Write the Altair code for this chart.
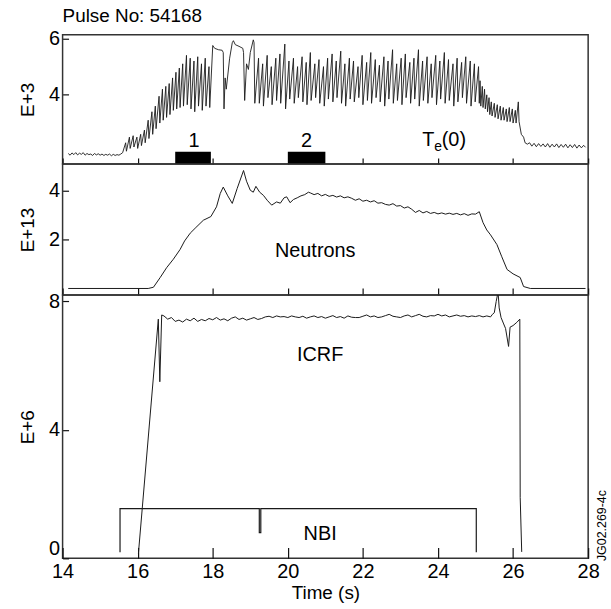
import altair as alt
import pandas as pd

FONT = "Liberation Sans"

# ---------------- Te(0) (E+3) ----------------
te_t = [14.15, 14.20, 14.25, 14.30, 14.35, 14.40, 14.45, 14.50, 14.55, 14.60,
        14.65, 14.70, 14.75, 14.80, 14.85, 14.90, 14.95, 15.00, 15.05, 15.10,
        15.15, 15.20, 15.25, 15.30, 15.35, 15.40, 15.45, 15.50, 15.55,
        15.60, 15.68, 15.70, 15.78, 15.80, 15.88, 15.90, 15.98, 16.00, 16.08,
        16.10, 16.18, 16.20, 16.28, 16.30, 16.38, 16.40, 16.47, 16.49,
        16.57, 16.59, 16.66, 16.68, 16.75, 16.77, 16.84, 16.86,
        16.93, 16.95, 17.02, 17.04, 17.11, 17.13, 17.20, 17.22,
        17.30, 17.32, 17.40, 17.42, 17.50, 17.52, 17.60, 17.62, 17.70, 17.72,
        17.80, 17.82, 17.90, 17.92,
        18.00, 18.05, 18.15, 18.25, 18.28, 18.30, 18.33, 18.36, 18.45, 18.52,
        18.55, 18.60, 18.70, 18.80, 18.82, 18.85, 18.90, 18.95, 19.00, 19.08,
        19.10, 19.12,
        19.22, 19.24, 19.33, 19.35, 19.45, 19.47, 19.56, 19.58, 19.68, 19.70,
        19.79, 19.81, 19.92, 19.94, 20.03, 20.05, 20.15, 20.17, 20.26, 20.28,
        20.38, 20.40, 20.49, 20.51, 20.60, 20.62, 20.72, 20.74, 20.83, 20.85,
        20.95, 20.97, 21.06, 21.08, 21.18, 21.20, 21.29, 21.31, 21.41, 21.43,
        21.52, 21.54, 21.64, 21.66, 21.75, 21.77, 21.87, 21.89, 21.98, 22.00,
        22.10, 22.12, 22.21, 22.23, 22.33, 22.35, 22.44, 22.46, 22.56, 22.58,
        22.67, 22.69, 22.79, 22.81, 22.90, 22.92, 23.02, 23.04, 23.13, 23.15,
        23.25, 23.27, 23.36, 23.38, 23.48, 23.50, 23.59, 23.61, 23.71, 23.73,
        23.82, 23.84, 23.94, 23.96, 24.05, 24.07, 24.17, 24.19, 24.28, 24.30,
        24.40, 24.42, 24.51, 24.53, 24.63, 24.65, 24.74, 24.76, 24.86, 24.88,
        24.97, 24.99, 25.08, 25.10,
        25.12, 25.14, 25.18, 25.20, 25.24, 25.26, 25.30, 25.32, 25.36, 25.38,
        25.42, 25.44, 25.50, 25.52, 25.58, 25.60, 25.66, 25.68, 25.74, 25.76,
        25.82, 25.84, 25.90, 25.92, 25.98, 26.00, 26.06, 26.08, 26.14, 26.16,
        26.22, 26.28, 26.32, 26.38,
        26.44, 26.50, 26.56, 26.62, 26.68, 26.74, 26.80, 26.86, 26.92, 26.98,
        27.04, 27.10, 27.16, 27.22, 27.28, 27.34, 27.40, 27.46, 27.52, 27.58,
        27.64, 27.70, 27.76, 27.82, 27.88, 27.93]
te_v = [1.92, 1.86, 1.94, 1.88, 1.95, 1.87, 1.93, 1.89, 1.95, 1.86,
        1.92, 1.88, 1.90, 1.85, 1.92, 1.87, 1.91, 1.86, 1.90, 1.85,
        1.89, 1.86, 1.90, 1.84, 1.89, 1.85, 1.88, 1.86, 1.90,
        1.95, 2.30, 2.00, 2.50, 2.10, 2.55, 2.15, 2.50, 2.10, 2.60,
        2.20, 2.75, 2.30, 3.10, 2.45, 3.40, 2.60, 3.60, 2.80,
        3.95, 3.00, 4.20, 3.10, 4.30, 3.20, 4.40, 3.30,
        4.60, 3.45, 4.80, 3.50, 4.95, 3.55, 5.10, 3.60,
        5.40, 3.65, 5.30, 3.50, 5.20, 3.40, 5.35, 3.60, 5.10, 3.45,
        5.30, 3.60, 5.00, 3.55,
        5.75, 5.65, 5.60, 5.58, 5.50, 3.50, 4.60, 4.20, 5.30, 5.85,
        5.92, 5.78, 5.72, 5.65, 5.50, 3.80, 5.10, 4.90, 5.50, 5.95,
        5.85, 3.70,
        5.30, 3.70, 5.10, 3.60, 5.40, 3.90, 5.00, 3.65, 5.30, 3.80,
        5.45, 3.70, 5.80, 3.50, 5.20, 3.85, 5.30, 3.70, 5.00, 3.90,
        5.35, 3.75, 5.15, 3.65, 5.50, 3.80, 5.10, 3.90, 5.25, 3.70,
        5.00, 3.60, 5.30, 3.85, 5.45, 3.75, 5.20, 3.90, 5.55, 3.70,
        5.10, 3.60, 5.30, 3.85, 5.20, 3.75, 5.00, 3.90, 5.40, 3.65,
        5.15, 3.80, 5.50, 3.70, 5.25, 3.90, 5.05, 3.75, 5.35, 3.60,
        5.20, 3.85, 5.60, 3.70, 5.10, 3.80, 5.30, 3.65, 5.45, 3.90,
        5.15, 3.70, 5.30, 3.85, 5.60, 3.60, 5.20, 3.80, 5.35, 3.70,
        5.10, 3.90, 5.40, 3.65, 5.20, 3.85, 5.50, 3.70, 5.25, 3.80,
        5.10, 3.60, 5.30, 3.75, 5.15, 3.90, 5.35, 3.70, 5.20, 3.60,
        5.10, 3.75, 5.00, 3.70,
        4.50, 3.60, 4.30, 3.55, 4.20, 3.50, 4.00, 3.40, 3.90, 3.30,
        3.75, 3.25, 3.70, 3.20, 3.65, 3.15, 3.60, 3.10, 3.55, 3.10,
        3.50, 3.05, 3.55, 3.05, 3.50, 3.00, 3.45, 3.00, 3.75, 3.05,
        2.60, 2.50, 2.30, 2.25,
        2.30, 2.18, 2.28, 2.16, 2.27, 2.17, 2.26, 2.15, 2.27, 2.14,
        2.25, 2.15, 2.26, 2.13, 2.24, 2.14, 2.25, 2.12, 2.23, 2.13,
        2.24, 2.11, 2.22, 2.12, 2.21, 2.14]

# ---------------- Neutrons (E+13) ----------------
n_t = [14.15, 16.28, 16.42, 16.60, 16.77, 16.95, 17.13, 17.25, 17.40, 17.55,
       17.75, 17.95, 18.10, 18.20, 18.28, 18.40, 18.52, 18.65, 18.82, 18.90,
       19.00, 19.08, 19.15, 19.25, 19.35, 19.45, 19.57, 19.70, 19.80, 19.90,
       19.97, 20.06, 20.15, 20.25, 20.35, 20.45, 20.55,
       20.60, 20.70, 20.80, 20.90, 21.00, 21.10, 21.20, 21.30, 21.40, 21.50,
       21.60, 21.70, 21.80, 21.90, 22.00, 22.10, 22.20, 22.30, 22.40, 22.50,
       22.60, 22.70, 22.80, 22.90, 23.00, 23.10, 23.20, 23.30, 23.40, 23.50,
       23.60, 23.70, 23.80, 23.90, 24.00, 24.10, 24.20, 24.30, 24.40, 24.50,
       24.60, 24.70, 24.80, 24.90, 25.00, 25.10,
       25.20, 25.30, 25.40, 25.57, 25.70, 25.84, 26.00, 26.19, 26.28, 26.46, 27.93]
n_v = [0.00, 0.00, 0.05, 0.45, 0.85, 1.20, 1.60, 1.95, 2.27, 2.50,
       2.80, 2.95, 3.35, 3.90, 4.16, 3.80, 3.49, 4.10, 4.84, 4.40,
       4.03, 3.95, 4.19, 3.95, 3.82, 3.62, 3.42, 3.55, 3.50, 3.72,
       3.76, 3.52, 3.65, 3.72, 3.80, 3.85, 3.95,
       3.92, 3.85, 3.90, 3.80, 3.86, 3.78, 3.82, 3.75, 3.80, 3.72,
       3.76, 3.70, 3.62, 3.68, 3.58, 3.62, 3.55, 3.60, 3.50, 3.52,
       3.45, 3.42, 3.48, 3.38, 3.40, 3.30, 3.35, 3.25, 3.12, 3.20,
       3.10, 3.16, 3.08, 3.12, 3.06, 3.10, 3.05, 3.09, 3.04, 3.08,
       3.02, 3.07, 3.00, 3.06, 3.05, 3.15,
       2.70, 2.40, 2.20, 1.80, 1.30, 0.78, 0.60, 0.45, 0.08, 0.00, 0.00]

# ---------------- ICRF (E+6) ----------------
ic_t = [16.02, 16.55, 16.59, 16.64, 16.70, 16.80, 16.90, 17.00, 17.10, 17.20,
        17.30, 17.40, 17.50, 17.60, 17.70, 17.80, 17.90, 18.00, 18.10, 18.20,
        18.30, 18.40, 18.50, 18.60, 18.70, 18.80, 18.90, 19.00, 19.10, 19.20,
        19.30, 19.40, 19.50, 19.60, 19.70, 19.80, 19.90, 20.00, 20.10, 20.20,
        20.30, 20.40, 20.50, 20.60, 20.70, 20.80, 20.90, 21.00, 21.10, 21.20,
        21.30, 21.40, 21.50, 21.60, 21.70, 21.80, 21.90, 22.00, 22.10, 22.20,
        22.30, 22.40, 22.50, 22.60, 22.70, 22.80, 22.90, 23.00, 23.10, 23.20,
        23.30, 23.40, 23.50, 23.60, 23.70, 23.80, 23.90, 24.00, 24.10, 24.20,
        24.30, 24.40, 24.50, 24.60, 24.70, 24.80, 24.90, 25.00, 25.10, 25.20,
        25.30, 25.40, 25.45, 25.50, 25.55, 25.60, 25.63, 25.68, 25.75, 25.80,
        25.88, 25.92, 26.00, 26.10, 26.18, 26.19, 26.23]
ic_v = [0.15, 7.45, 5.50, 7.58, 7.55, 7.45, 7.50, 7.38, 7.42, 7.36,
        7.45, 7.40, 7.48, 7.38, 7.44, 7.40, 7.47, 7.43, 7.50, 7.42,
        7.46, 7.40, 7.48, 7.52, 7.44, 7.48, 7.42, 7.46, 7.50, 7.44,
        7.47, 7.52, 7.54, 7.50, 7.55, 7.52, 7.53, 7.50, 7.55, 7.52,
        7.50, 7.54, 7.48, 7.52, 7.55, 7.50, 7.53, 7.48, 7.52, 7.56,
        7.50, 7.53, 7.48, 7.55, 7.51, 7.50, 7.50, 7.54, 7.58, 7.52,
        7.55, 7.50, 7.52, 7.56, 7.60, 7.54, 7.52, 7.50, 7.55, 7.58,
        7.52, 7.56, 7.60, 7.54, 7.52, 7.56, 7.55, 7.60, 7.55, 7.58,
        7.52, 7.55, 7.58, 7.54, 7.56, 7.52, 7.55, 7.53, 7.56, 7.52,
        7.55, 7.52, 7.60, 7.65, 8.00, 8.30, 7.80, 7.50, 7.30, 7.16,
        6.60, 7.20, 7.25, 7.35, 7.45, 1.90, 0.20]

# ---------------- NBI (E+6) ----------------
nbi_t = [15.53, 15.53, 19.24, 19.24, 19.28, 19.28, 25.02, 25.02]
nbi_v = [0.19, 1.55, 1.55, 0.80, 0.80, 1.55, 1.55, 0.19]

# sawtooth analysis windows
win_label = ["1", "2"]
win_start = [17.0, 20.0]
win_end = [17.95, 21.0]

x_ticks = [14, 16, 18, 20, 22, 24, 26, 28]

W = 529
LINE = "#1a1a1a"

te_df = pd.DataFrame({"t": te_t, "v": te_v, "i": range(len(te_t))})
n_df = pd.DataFrame({"t": n_t, "v": n_v, "i": range(len(n_t))})
ic_df = pd.DataFrame({"t": ic_t, "v": ic_v, "i": range(len(ic_t))})
nbi_df = pd.DataFrame({"t": nbi_t, "v": nbi_v, "i": range(len(nbi_t))})
win_df = pd.DataFrame({"label": win_label, "t0": win_start, "t1": win_end,
                       "lo": [1.55, 1.55], "hi": [1.98, 1.98],
                       "tm": [17.5, 20.5], "ty": [2.36, 2.36]})


def x_enc(field, show_labels, tick):
    return alt.X(
        field, type="quantitative",
        scale=alt.Scale(domain=[14, 28], nice=False, zero=False),
        axis=alt.Axis(values=x_ticks, labels=show_labels, domain=False,
                      title="Time (s)" if show_labels else None,
                      tickSize={"expr": str(-tick)}, tickColor="#111",
                      tickWidth=1.2, grid=False, labelPadding=tick + 3,
                      labelFontSize=20, titleFontSize=19, titlePadding=2,
                      labelFlush=False),
    )


def y_enc(field, domain, values, title, flush=False):
    return alt.Y(
        field, type="quantitative",
        scale=alt.Scale(domain=domain, nice=False, zero=False),
        axis=alt.Axis(values=values, title=title, domain=False, grid=False,
                      tickSize={"expr": "-6"}, tickColor="#111", tickWidth=1.2,
                      labelPadding=9, labelFontSize=20, titleFontSize=19,
                      titlePadding=11, labelFlush=flush),
    )


# ----- Top panel -----
te_line = alt.Chart(te_df).mark_line(color=LINE, strokeWidth=0.9, clip=True).encode(
    x=x_enc("t", False, 6),
    y=y_enc("v", [1.55, 6.13], [4, 6], "E+3"),
    order="i:Q",
)
bars = alt.Chart(win_df).mark_rect(color="black").encode(
    x="t0:Q", x2="t1:Q", y="lo:Q", y2="hi:Q")
bar_txt = alt.Chart(win_df).mark_text(fontSize=20, font=FONT, baseline="middle").encode(
    x="tm:Q", y="ty:Q", text="label:N")

te_lab = pd.DataFrame({"txt": ["T", "e", "(0)"], "t": [23.58, 23.9, 24.1],
                       "v": [2.19, 2.02, 2.19], "fs": [20, 14, 20]})
te_txt = alt.Chart(te_lab).mark_text(font=FONT, align="left", baseline="alphabetic").encode(
    x="t:Q", y="v:Q", text="txt:N",
    size=alt.Size("fs:Q", scale=None, legend=None))

top = alt.layer(te_line, bars, bar_txt, te_txt).properties(
    width=W, height=130,
    title=alt.TitleParams("Pulse No: 54168", anchor="start", frame="group",
                          fontSize=19, fontWeight="normal", font=FONT,
                          color="black", offset=3),
)

# ----- Middle panel -----
n_line = alt.Chart(n_df).mark_line(color=LINE, strokeWidth=1, clip=True).encode(
    x=x_enc("t", False, 7),
    y=y_enc("v", [-0.27, 5.11], [2, 4], "E+13"),
    order="i:Q",
)
n_lab = pd.DataFrame({"txt": ["Neutrons"], "t": [20.73], "v": [1.54]})
n_txt = alt.Chart(n_lab).mark_text(font=FONT, fontSize=20, baseline="middle").encode(
    x="t:Q", y="v:Q", text="txt:N")
mid = alt.layer(n_line, n_txt).properties(width=W, height=132)

# ----- Bottom panel -----
ic_line = alt.Chart(ic_df).mark_line(color=LINE, strokeWidth=1, clip=True).encode(
    x=x_enc("t", True, 11),
    y=y_enc("v", [0, 8.2], [0, 4, 8], "E+6", flush=True),
    order="i:Q",
)
nbi_line = alt.Chart(nbi_df).mark_line(color=LINE, strokeWidth=1.2).encode(
    x="t:Q", y="v:Q", order="i:Q")
b_lab = pd.DataFrame({"txt": ["ICRF", "NBI"], "t": [20.86, 20.86], "v": [6.32, 0.77]})
b_txt = alt.Chart(b_lab).mark_text(font=FONT, fontSize=20, baseline="middle").encode(
    x="t:Q", y="v:Q", text="txt:N")
code_lab = pd.DataFrame({"txt": ["JG02.269-4c"], "t": [28.2], "v": [1.02]})
code_txt = alt.Chart(code_lab).mark_text(font=FONT, fontSize=12.5, angle=270,
                                          align="center", baseline="top").encode(
    x="t:Q", y="v:Q", text="txt:N")
bot = alt.layer(ic_line, nbi_line, b_txt, code_txt).properties(width=W, height=265)

chart = alt.vconcat(top, mid, bot, spacing=0, bounds="flush").properties(
    padding={"left": 18, "top": 3, "right": 2, "bottom": 5}
).configure_view(
    stroke="#333", strokeWidth=1.5
).configure_axis(
    labelFont=FONT, titleFont=FONT, labelColor="black", titleColor="black",
    titleFontWeight="normal"
).configure_text(color="black")

chart.save("out.html", embed_options={"renderer": "svg", "actions": False})
